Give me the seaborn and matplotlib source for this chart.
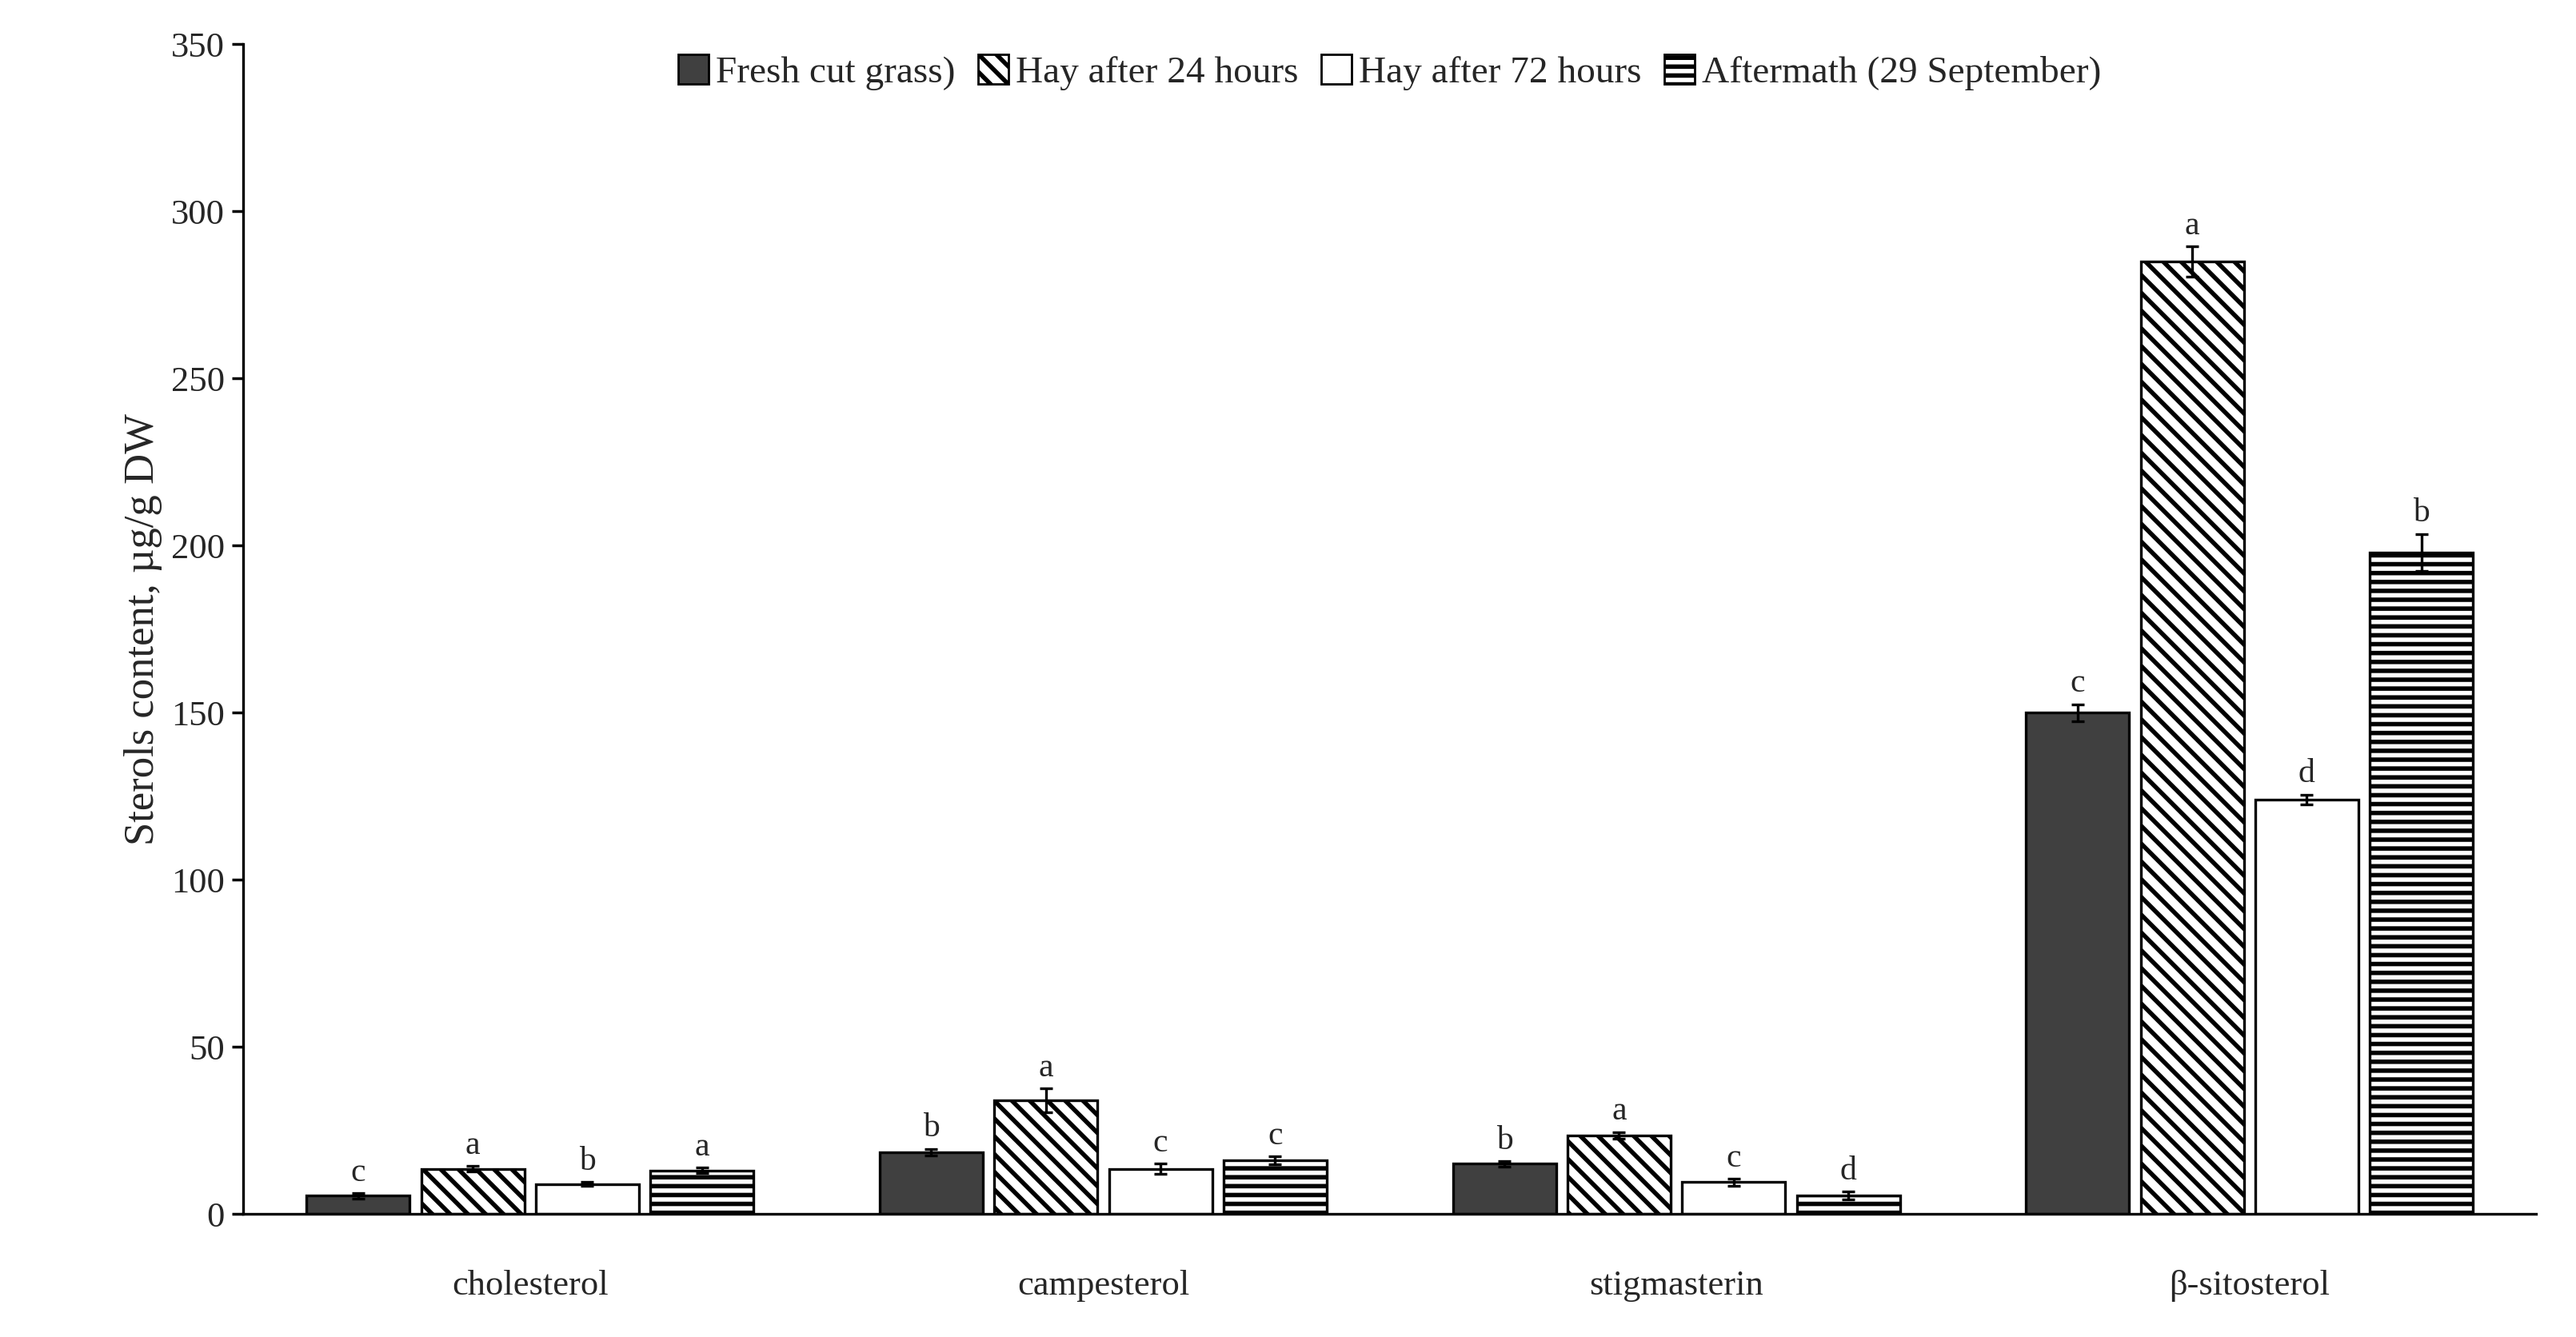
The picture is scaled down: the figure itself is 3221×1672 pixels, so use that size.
import matplotlib
matplotlib.use("Agg")
import matplotlib.pyplot as plt
import seaborn as sns
import pandas as pd

compounds = ["cholesterol", "campesterol", "stigmasterin", "β-sitosterol"]
groups = ["Fresh cut grass)", "Hay after 24 hours", "Hay after 72 hours", "Aftermath (29 September)"]
fresh = [5.5, 18.5, 15.0, 150.0]
hay24 = [13.5, 34.0, 23.5, 285.0]
hay72 = [9.0, 13.5, 9.5, 124.0]
after = [13.0, 16.0, 5.5, 198.0]
err_fresh = [0.8, 1.0, 0.8, 2.5]
err_hay24 = [0.8, 3.5, 1.0, 4.5]
err_hay72 = [0.6, 1.5, 1.0, 1.5]
err_after = [0.8, 1.2, 1.2, 5.5]
let_fresh = ["c", "b", "b", "c"]
let_hay24 = ["a", "a", "a", "a"]
let_hay72 = ["b", "c", "c", "d"]
let_after = ["a", "c", "d", "b"]

vals = [fresh, hay24, hay72, after]
errs = [err_fresh, err_hay24, err_hay72, err_after]
lets = [let_fresh, let_hay24, let_hay72, let_after]

rows = []
for g, v in zip(groups, vals):
    for c, x in zip(compounds, v):
        rows.append({"compound": c, "group": g, "value": x})
df = pd.DataFrame(rows)

sns.set_theme(style="white")
plt.rcParams["font.family"] = ["Liberation Serif", "DejaVu Serif"]
plt.rcParams["hatch.linewidth"] = 2.0

fig = plt.figure(figsize=(16.105, 8.36), dpi=200)
ax = fig.add_axes([0.0945, 0.092, 0.89, 0.875])
palette = ["#404040", "white", "white", "white"]
sns.barplot(data=df, x="compound", y="value", hue="group", order=compounds,
            hue_order=groups, palette=palette, edgecolor="black", linewidth=1.2,
            width=0.8, gap=0.1, errorbar=None, ax=ax, legend=False)
hatches = [None, "\\\\\\", None, "---"]
bar_conts = list(ax.containers)
for gi, cont in enumerate(bar_conts):
    for ci, p in enumerate(cont):
        if hatches[gi]:
            p.set_hatch(hatches[gi])
        xc = p.get_x() + p.get_width() / 2
        h = p.get_height()
        e = errs[gi][ci]
        ax.errorbar(xc, h, yerr=e, color="black", capsize=3, lw=1.2, capthick=1.2)
        ax.text(xc, h + e + 1.5, lets[gi][ci], ha="center", va="bottom", fontsize=15)

from matplotlib.patches import Patch
handles = [Patch(facecolor=palette[i], edgecolor="black", hatch=hatches[i], label=groups[i]) for i in range(4)]
ax.legend(handles=handles, loc="upper center", ncol=4, frameon=False, fontsize=17,
          handlelength=0.8, handleheight=0.8, handletextpad=0.2, columnspacing=0.6,
          bbox_to_anchor=(0.5, 1.02))

ax.set_ylim(0, 350)
ax.set_yticks(range(0, 351, 50))
ax.set_xlim(-0.5, 3.5)
ax.set_xlabel("")
ax.set_ylabel("Sterols content, µg/g DW", fontsize=19)
ax.tick_params(axis="both", labelsize=16, left=True, bottom=False, length=5, color="black")
ax.tick_params(axis="x", pad=20)
for s in ["top", "right"]:
    ax.spines[s].set_visible(False)
for s in ["left", "bottom"]:
    ax.spines[s].set_color("black")
    ax.spines[s].set_linewidth(1.2)
fig.savefig("out.png", dpi=200)
